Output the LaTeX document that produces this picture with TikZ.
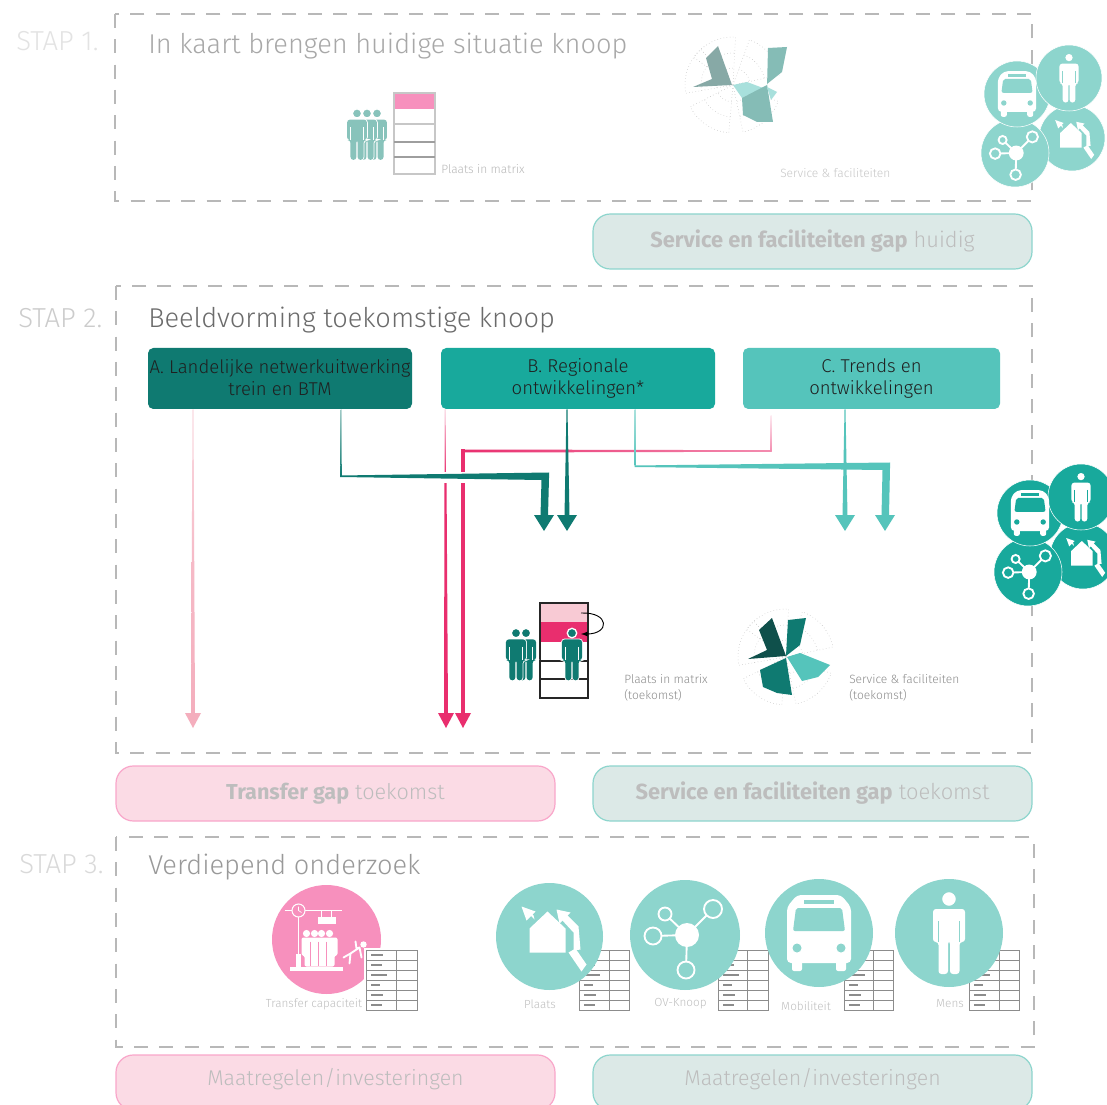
\documentclass[tikz,border=0pt]{standalone}
\usepackage{fontspec}
\usetikzlibrary{calc}
\setmainfont{Fira Sans Light}
\newfontfamily\boldf{Fira Sans}
\definecolor{tealpale}{HTML}{8DD5CD}
\definecolor{tealdark}{HTML}{0F7A71}
\definecolor{tealdeep}{HTML}{0F504B}
\definecolor{tealmid}{HTML}{18A99C}
\definecolor{teallight}{HTML}{55C4BB}
\definecolor{hotpink}{HTML}{E92E6E}
\definecolor{palepink}{HTML}{F4AEBD}
\definecolor{pinkcirc}{HTML}{F790BD}
\definecolor{gapgreen}{HTML}{DCE9E7}
\definecolor{gappink}{HTML}{FBDBE5}
\definecolor{personpale}{HTML}{88C3BB}
\definecolor{radarA}{HTML}{87A9A6}
\definecolor{radarB}{HTML}{85BCB6}
\definecolor{radarC}{HTML}{A8E0DC}
\tikzset{
  frame/.style={draw=black!28,line width=1.4pt,dash pattern=on 10.5pt off 8.5pt},
  gapgreenbox/.style={draw=tealpale,fill=gapgreen,line width=.9pt,rounded corners=13pt,minimum width=329.25pt,minimum height=41.25pt,inner sep=0pt,text=black!26},
  gappinkbox/.style={draw=pinkcirc!80,fill=gappink,line width=.9pt,rounded corners=13pt,minimum width=329.25pt,minimum height=41.25pt,inner sep=0pt,text=black!26},
  hdr/.style={rounded corners=4pt,minimum height=45.75pt,inner sep=0pt,align=center,font=\fontsize{13.9}{17}\selectfont,text=black!88},
  steplab/.style={font=\fontsize{20.6}{22}\selectfont,anchor=west,inner sep=0pt},
  titlelab/.style={font=\fontsize{20.4}{24}\selectfont,anchor=west,inner sep=0pt},
  small/.style={font=\fontsize{9}{12}\selectfont,text=black!28,anchor=west,inner sep=0pt,align=left},
  smalldark/.style={font=\fontsize{9}{12}\selectfont,text=black!45,anchor=west,inner sep=0pt,align=left},
  tinylab/.style={font=\fontsize{8.8}{11}\selectfont,text=black!25,inner sep=0pt},
  radargridline/.style={black!32,line width=.35pt,dotted},
}
% pictograms: #1 x, #2 y, #3 scale, #4 fg, #5 bg
\newcommand\personfig[5]{\begin{scope}[shift={(#1,#2)},scale=#3]
  \def\pth{(-16,9)--(-16,-24)--(16,-24)--(16,9)--(10.5,9)--(10.5,41)--(1,41)--(1,8)--(-1,8)--(-1,41)--(-10.5,41)--(-10.5,9)--cycle}
  \draw[#5,line width=1.3pt,rounded corners=2.2pt] \pth;
  \fill[#4,rounded corners=2.2pt] \pth;
  \draw[#5,line width=.45pt] (-10.5,-12)--(-10.5,9) (10.5,-12)--(10.5,9);
  \draw[#5,line width=1pt,fill=#4] (0,-34) circle[radius=7.5];
\end{scope}}
\newcommand\busfig[5]{\begin{scope}[shift={(#1,#2)},scale=#3]
  \fill[#4,rounded corners=3pt] (-32,30)--(-32,-26)--(-22,-38)--(22,-38)--(32,-26)--(32,30)--cycle;
  \fill[#4,rounded corners=1.5pt] (-27,26) rectangle (-17,38);
  \fill[#4,rounded corners=1.5pt] (17,26) rectangle (27,38);
  \fill[#5,rounded corners=1.5pt] (-23,-25)--(23,-25)--(26,-2)--(-26,-2)--cycle;
  \fill[#5] (-15,-33) rectangle (15,-29);
  \fill[#5] (-22,15) circle[radius=4.5] (22,15) circle[radius=4.5];
\end{scope}}
\newcommand\hubfig[5]{\begin{scope}[shift={(#1,#2)},scale=#3]
  \draw[#4,line width=1.4pt] (2,0)--(-20,-21) (2,0)--(28,-26) (2,0)--(-32,1) (2,0)--(1,35);
  \fill[#4] (2,0) circle[radius=12];
  \draw[#4,line width=1.4pt,fill=#5] (-20,-21) circle[radius=6.5];
  \draw[#4,line width=1.4pt,fill=#5] (28,-26) circle[radius=9];
  \draw[#4,line width=1.4pt,fill=#5] (-32,1) circle[radius=8.5];
  \draw[#4,line width=1.4pt,fill=#5] (1,35) circle[radius=8.5];
\end{scope}}
\newcommand\housefig[5]{\begin{scope}[shift={(#1,#2)},scale=#3]
  \fill[#4] (-2,-25)--(16,-8)--(16,16)--(-20,16)--(-20,-8)--cycle;
  \fill[#4] (-28,-30)--(-14,-25)--(-23,-16)--cycle;
  \fill[#4] (-20,-25)--(-16,-21)--(-15,-17)--(-19,-21)--cycle;
  \fill[#4] (7,-27)--(21,-24)--(10,-13)--cycle;
  \fill[#4] (15,-24)--(29,-10)--(31,13)--(24,14)--(24,-4)--(12,-17)--cycle;
  \fill[#4] (19,16)--(26,12)--(37,28)--(32,35)--cycle;
\end{scope}}
\newcommand\radargrid[1]{\foreach \a in {20,95,170,215,290}{
  \draw[radargridline] (#1) -- ($(#1)+(\a:48)$) arc[start angle=\a,end angle=\a+58,radius=48] -- (#1);
  \draw[radargridline] ($(#1)+(\a:32)$) arc[start angle=\a,end angle=\a+58,radius=32];
  \draw[radargridline] ($(#1)+(\a:17)$) arc[start angle=\a,end angle=\a+58,radius=17];
}}
\newcommand\mtable[3]{% x0 x1 xcol
  \fill[white] (#1,950) rectangle (#2,1010);
  \foreach \r/\l in {0/12,1/11,2/16,3/9,4/12,5/11}{
    \draw[black!45,line width=.75pt] ($(#1,950+\r*10)+(0,0)$) rectangle (#3,960+\r*10);
    \draw[black!45,line width=.75pt] (#3,950+\r*10) rectangle (#2,960+\r*10);
    \draw[black!45,line width=1.2pt] (#1+5,955+\r*10) -- (#1+5+\l,955+\r*10);
  }}
% connectors between named coordinates
\newcommand\vtaper[5]{\fill[#5] ($(#1)+(-#3/2,0)$) -- ($(#1)+(#3/2,0)$) -- ($(#2)+(#4/2,0)$) -- ($(#2)+(-#4/2,0)$) -- cycle;}
\newcommand\ahead[3]{\fill[#3] ($(#1)+(-#2,-16)$) -- ($(#1)+(#2,-16)$) -- (#1) -- cycle;}
\begin{document}
\begin{tikzpicture}[x=.75pt,y=-.75pt]
\useasboundingbox (0,0) rectangle (1107,1105);
\clip (0,0) rectangle (1107,1105);
\fill[white] (0,0) rectangle (1107,1105);

% frames
\draw[frame] (115,14) rectangle (1032,201);
\draw[frame] (116,286) rectangle (1032,753);
\draw[frame] (116,837) rectangle (1034,1047);

% step labels and titles
\node[steplab,text=black!11] (s1) at (16,41) {STAP 1.};
\node[steplab,text=black!20] (s2) at (18,318) {STAP 2.};
\node[steplab,text=black!15] (s3) at (19,864) {STAP 3.};
\node[titlelab,text=black!34] (t1) at (148,46) {In kaart brengen huidige situatie knoop};
\node[titlelab,text=black!58] (t2) at (148,320) {Beeldvorming toekomstige knoop};
\node[titlelab,text=black!40] (t3) at (148,867) {Verdiepend onderzoek};

% step 1 contents
\fill[pinkcirc] (394,93) rectangle (435,109);
\draw[black!22,line width=1.2pt] (394,93) rectangle (435,174);
\draw[black!22,line width=.9pt] (394,124)--(435,124);
\draw[black!38,line width=.9pt] (394,142)--(435,142) (394,157)--(435,157);
\personfig{377}{134.5}{.62}{personpale}{white}
\personfig{367}{134.5}{.62}{personpale}{white}
\personfig{357}{134.5}{.62}{personpale}{white}
\node[small] (l1) at (441,169) {Plaats in matrix};
\radargrid{733,85}
\fill[radarA] (718,46)--(732,85)--(693,87)--(712,79)--(706,58)--cycle;
\fill[radarB] (768,48)--(787,47)--(782,72)--(767,84)--(767,88)--cycle;
\fill[radarC] (733,85)--(747,82)--(763,88)--(742,98)--cycle;
\fill[radarB] (742,98)--(767,85)--(773,122)--(757,122)--(743,115)--cycle;
\fill[radarC] (767,87)--(777,92)--(771,100)--cycle;
\node[small,text=black!22] (l2) at (780,173) {Service \& faciliteiten};
% cluster step 1
\fill[tealpale,draw=white] (1072,138) circle[radius=33];
\fill[tealpale,draw=white] (1015,153) circle[radius=34];
\fill[tealpale,draw=white] (1017,94) circle[radius=33];
\fill[tealpale,draw=white] (1069,78) circle[radius=33];
\busfig{1017}{94}{.6}{white}{tealpale}
\personfig{1069}{78}{.6}{white}{tealpale}
\hubfig{1015}{153}{.62}{white}{tealpale}
\housefig{1072}{138}{.6}{white}{tealpale}

% gap boxes
\node[gapgreenbox] (g1) at (812.5,241.5) {\fontsize{16.4}{18}\selectfont{\boldf\bfseries Service en faciliteiten gap} huidig};
\node[gappinkbox] (g2) at (335.5,793.5) {\fontsize{16.2}{18}\selectfont{\boldf\bfseries Transfer gap} toekomst};
\node[gapgreenbox] (g3) at (812.5,793.5) {\fontsize{16.4}{18}\selectfont{\boldf\bfseries Service en faciliteiten gap} toekomst};
\node[gappinkbox] (g4) at (335.5,1082.5) {\raisebox{8pt}{\fontsize{16}{18}\selectfont Maatregelen/investeringen}};
\node[gapgreenbox] (g5) at (812.5,1082.5) {\raisebox{8pt}{\fontsize{16}{18}\selectfont Maatregelen/investeringen}};

% header boxes
\node[hdr,fill=tealdark,minimum width=198pt] (a) at (280,378.5) {\raisebox{1.5pt}{A. Landelijke netwerkuitwerking}\\\raisebox{1.5pt}{trein en BTM}};
\node[hdr,fill=tealmid,minimum width=205.5pt] (b) at (578,378.5) {\raisebox{1.5pt}{B. Regionale}\\\raisebox{1.5pt}{ontwikkelingen*}};
\node[hdr,fill=teallight,minimum width=192.75pt] (c) at (871.5,378.5) {\raisebox{1.5pt}{C. Trends en}\\\raisebox{1.5pt}{ontwikkelingen}};

% connector coordinates
\coordinate (apale) at (a.south -| 193,0);
\coordinate (apaleT) at (193,728);
\coordinate (adark) at (a.south -| 341,0);
\coordinate (adarkC) at (341,476);
\coordinate (adarkE) at (545,476);
\coordinate (adarkT) at (544,531);
\coordinate (bpink) at (b.south -| 445,0);
\coordinate (bpinkM) at (445.5,475);
\coordinate (bpinkT) at (446,728);
\coordinate (bdark) at (b.south -| 567,0);
\coordinate (bdarkT) at (567,531);
\coordinate (bteal) at (b.south -| 635,0);
\coordinate (btealC) at (635,466);
\coordinate (btealE) at (887,466);
\coordinate (btealT) at (885,531);
\coordinate (cpink) at (c.south -| 771,0);
\coordinate (cpinkC) at (771,451);
\coordinate (cpinkE) at (463,451);
\coordinate (cpinkT) at (463,728);
\coordinate (cteal) at (c.south -| 845,0);
\coordinate (ctealT) at (845,531);

% pale pink from A
\path[top color=palepink!45,bottom color=palepink,middle color=palepink!85] ($(apale)+(-.5,0)$) -- ($(apale)+(.5,0)$) -- ($(apaleT)+(2,-14)$) -- ($(apaleT)+(-2,-14)$) -- cycle;
\fill[palepink] ($(apaleT)+(-8,-15)$) -- ($(apaleT)+(8,-15)$) -- (apaleT) -- cycle;

% pink from B and C
\path[top color=hotpink!25,bottom color=hotpink] ($(bpink)+(-.5,0)$) -- ($(bpink)+(.5,0)$) -- ($(bpinkM)+(1,0)$) -- ($(bpinkM)+(-1,0)$) -- cycle;
\vtaper{bpinkM}{$(bpinkT)+(0,-14)$}{2}{4}{hotpink}
\fill[hotpink] ($(bpinkT)+(-8,-15)$) -- ($(bpinkT)+(8,-15)$) -- (bpinkT) -- cycle;
\path[top color=hotpink!10,bottom color=hotpink!55] ($(cpink)+(-.5,6)$) -- ($(cpink)+(.5,6)$) -- ($(cpinkC)+(.5,1)$) -- ($(cpinkC)+(-.5,1)$) -- cycle;
\path[left color=hotpink,right color=hotpink!55] ($(cpinkC)+(.5,-.8)$) -- ($(cpinkC)+(.5,.8)$) -- ($(cpinkE)+(2,1.5)$) -- ($(cpinkE)+(-2,-1.5)$) -- cycle;
\fill[hotpink] ($(cpinkE)+(-2,-1.5)$) -- ($(cpinkE)+(2,-1.5)$) -- ($(cpinkT)+(2,-14)$) -- ($(cpinkT)+(-2,-14)$) -- cycle;
\fill[hotpink] ($(cpinkT)+(-8,-15)$) -- ($(cpinkT)+(8,-15)$) -- (cpinkT) -- cycle;

% dark green from A (halo over pink)
\fill[white] (436,472) rectangle (472,483);
\path[top color=tealdark!40,bottom color=tealdark] ($(adark)+(-.5,0)$) -- ($(adark)+(.5,0)$) -- ($(adarkC)+(.8,0)$) -- ($(adarkC)+(-.8,0)$) -- cycle;
\fill[tealdark] ($(adarkC)+(-.8,1)$) -- ($(adarkC)+(-.8,-.5)$) -- ($(adarkE)+(4,-3.5)$) -- ($(adarkE)+(4,2)$) -- ($(adarkT)+(4,-15)$) -- ($(adarkT)+(-3.5,-15)$) -- ($(adarkE)+(-3.5,4)$) -- cycle;
\ahead{adarkT}{10}{tealdark}

% dark green from B
\vtaper{bdark}{$(bdarkT)+(0,-15)$}{1}{5}{tealdark}
\ahead{bdarkT}{10}{tealdark}

% teal from B
\path[top color=teallight!50,bottom color=teallight] ($(bteal)+(-.5,0)$) -- ($(bteal)+(.5,0)$) -- ($(btealC)+(.5,0)$) -- ($(btealC)+(-.5,0)$) -- cycle;
\fill[teallight] ($(btealC)+(-.5,1)$) -- ($(btealC)+(-.5,-.5)$) -- ($(btealE)+(3,-3.5)$) -- ($(btealE)+(3,2)$) -- ($(btealT)+(4,-15)$) -- ($(btealT)+(-3.5,-15)$) -- ($(btealE)+(-4.5,4)$) -- cycle;
\ahead{btealT}{10}{teallight}

% teal from C
\vtaper{cteal}{$(ctealT)+(0,-15)$}{1}{5}{teallight}
\ahead{ctealT}{10}{teallight}

% cluster step 2
\fill[tealmid,draw=white] (1083,556) circle[radius=33];
\fill[tealmid,draw=white] (1028,572) circle[radius=34];
\fill[tealmid,draw=white] (1030,513) circle[radius=33];
\fill[tealmid,draw=white] (1081,497) circle[radius=33];
\busfig{1030}{513}{.6}{white}{tealmid}
\personfig{1081}{497}{.6}{white}{tealmid}
\hubfig{1028}{572}{.62}{white}{tealmid}
\housefig{1083}{556}{.6}{white}{tealmid}

% step 2 matrix
\fill[palepink!65] (540,603) rectangle (588,622);
\fill[hotpink] (540,622) rectangle (588,642);
\draw[black!85,line width=1.2pt] (540,603) rectangle (588,698);
\draw[black!85,line width=1.2pt] (540,661)--(588,661) (540,679)--(588,679);
\personfig{526}{654.5}{.63}{tealdark}{white}
\personfig{516}{654.5}{.63}{tealdark}{white}
\personfig{572}{654.5}{.63}{tealdark}{white}
\coordinate (loopA) at (581,613);
\coordinate (loopB) at (581,634);
\draw[black,line width=.7pt,-latex] (loopA) .. controls (610,612) and (610,634) .. (loopB);
\node[smalldark] (l3) at (624,688) {Plaats in matrix\\(toekomst)};
% step 2 radar
\radargrid{786,657}
\fill[tealdeep] (772,618)--(786,656)--(748,659)--(767,650)--(759,630)--cycle;
\fill[tealdark] (788,620)--(806,618)--(800,645)--(786,656)--cycle;
\fill[teallight] (787,657)--(800,653)--(830,665)--(818,677)--(802,681)--cycle;
\fill[tealdark] (760,670)--(786,658)--(792,695)--(777,693)--(763,687)--cycle;
\node[smalldark] (l4) at (849,688) {Service \& faciliteiten\\(toekomst)};

% step 3 tables and circles
\mtable{579}{629}{609}
\mtable{718}{768}{747}
\mtable{844}{893}{873}
\mtable{969}{1019}{999}
\fill[pinkcirc] (326.5,939.5) circle[radius=54.5];
\fill[white] (364,948) rectangle (419,1012);
\mtable{366}{417}{396}
\fill[tealpale] (549.5,936.5) circle[radius=53.5];
\housefig{549.5}{936.5}{1}{white}{tealpale}
\fill[tealpale] (685,935) circle[radius=55];
\hubfig{685}{935}{1}{white}{tealpale}
\fill[tealpale] (819,933) circle[radius=54];
\busfig{819}{933}{1}{white}{tealpale}
\fill[tealpale] (949,933) circle[radius=54];
\personfig{949}{933}{1}{white}{tealpale}

% transfer pictogram
\begin{scope}[shift={(326.5,939.5)}]
  \fill[white] (-37,27) rectangle (16,31);
  \foreach \xx in {-20,-12,-5,3}{\fill[white] (\xx,-6) circle[radius=3.6];}
  \fill[white,rounded corners=1.5pt] (-25,16)--(-25,-2)--(11,-2)--(11,16)--(8,16)--(8,27)--(-22,27)--(-22,16)--cycle;
  \draw[pinkcirc,line width=.35pt] (-16,2)--(-16,26) (-8,2)--(-8,26) (0,2)--(0,26);
  \draw[white,line width=.9pt] (-28,-23)--(-28,26);
  \fill[white] (-31,14) rectangle (-26,27);
  \draw[white,line width=.5pt] (-42,-29)--(15,-29) (-5,-29)--(-5,-23) (5,-29)--(5,-23);
  \draw[white,line width=.8pt,fill=pinkcirc] (-28,-29) circle[radius=6.5];
  \draw[white,line width=.5pt] (-28,-33)--(-28,-29)--(-25,-27);
  \fill[white] (-9,-23) rectangle (9,-16);
  \fill[white] (37,5) circle[radius=3.2];
  \draw[white,line width=1.4pt,line cap=round,line join=round] (29,2)--(30,9)--(33,8)--(35,18) (33,8)--(24,14)--(17,18) (24,14)--(23,24);
\end{scope}

% step 3 labels
\node[tinylab] (l5) at (314,1004) {Transfer capaciteit};
\node[tinylab] (l6) at (540,1004) {Plaats};
\node[tinylab] (l7) at (680.5,1004) {OV-Knoop};
\node[tinylab] (l8) at (806,1006) {Mobiliteit};
\node[tinylab] (l9) at (950,1004) {Mens};
\end{tikzpicture}
\end{document}
